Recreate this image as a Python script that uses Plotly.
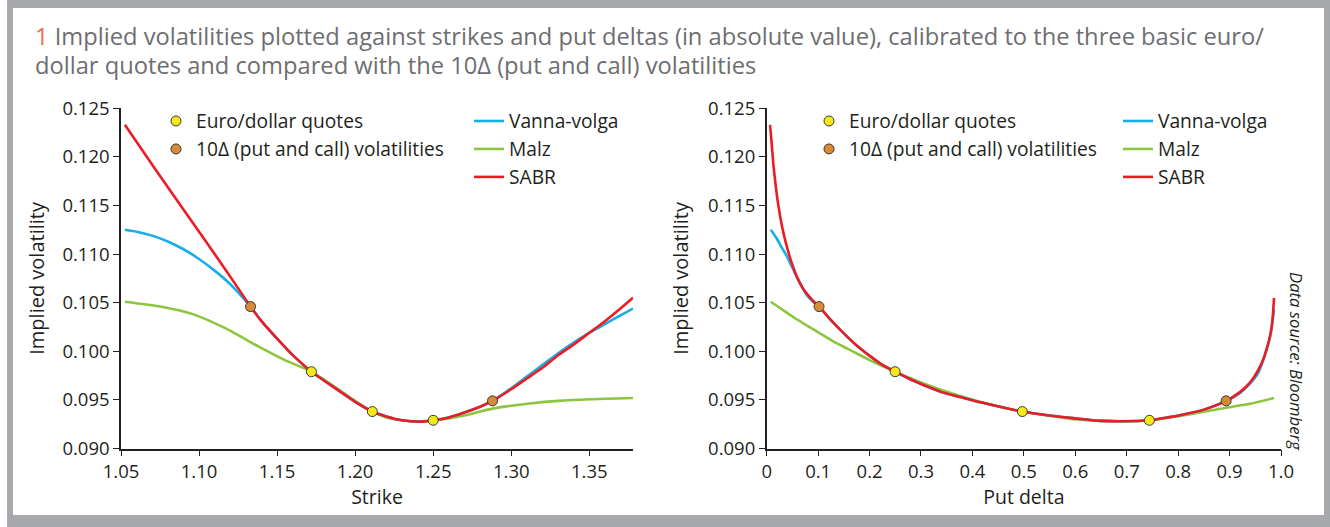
import plotly.graph_objects as go

# ---------------- data ----------------
# Left panel: implied volatility vs strike
strike_sabr = [1.0525, 1.07, 1.09, 1.11, 1.125, 1.133, 1.14, 1.15, 1.16, 1.172, 1.18, 1.19, 1.20, 1.211,
               1.22, 1.23, 1.2425, 1.25, 1.26, 1.27, 1.28, 1.288, 1.30, 1.31, 1.32, 1.33, 1.34, 1.35,
               1.36, 1.37, 1.378]
vol_sabr_k = [0.1233, 0.1192, 0.1146, 0.1100, 0.1065, 0.1046, 0.1031, 0.1013, 0.0996, 0.0979, 0.0970,
              0.0959, 0.0948, 0.0938, 0.0933, 0.0929, 0.09277, 0.0929, 0.0932, 0.0937, 0.0943, 0.0949,
              0.0961, 0.0972, 0.0983, 0.0996, 0.1007, 0.1019, 0.1031, 0.1044, 0.1055]

strike_vv = [1.0525, 1.06, 1.07, 1.08, 1.09, 1.10, 1.11, 1.12, 1.133, 1.14, 1.15, 1.16,
             1.172, 1.18, 1.19, 1.20, 1.211, 1.22, 1.23, 1.2425, 1.25, 1.26, 1.27, 1.28, 1.288, 1.30,
             1.31, 1.32, 1.33, 1.34, 1.35, 1.36, 1.37, 1.378]
vol_vv_k = [0.1125, 0.1123, 0.1119, 0.1113, 0.1105, 0.1095, 0.1083, 0.1069, 0.1046,
            0.1031, 0.1013, 0.0996, 0.0979, 0.0970, 0.0959, 0.0948, 0.0938, 0.0933, 0.0929, 0.09277,
            0.0929, 0.0932, 0.0937, 0.0943, 0.0949, 0.0962, 0.0974, 0.0986, 0.0998, 0.1009, 0.1019,
            0.1028, 0.1037, 0.1044]

strike_malz = [1.0525, 1.075, 1.0964, 1.1177, 1.1391, 1.155, 1.172, 1.19, 1.20, 1.211, 1.22, 1.23,
               1.24, 1.25, 1.26, 1.27, 1.28, 1.288, 1.30, 1.313, 1.33, 1.35, 1.378]
vol_malz_k = [0.1051, 0.1046, 0.1038, 0.1023, 0.1004, 0.0991, 0.0979, 0.0960, 0.0949,
              0.0938, 0.0932, 0.0929, 0.0928, 0.0929, 0.0931, 0.0934, 0.0938, 0.0941, 0.0944, 0.09466,
              0.0949, 0.09507, 0.0952]

quote_strikes = [1.172, 1.211, 1.250]
quote_vols = [0.0979, 0.0938, 0.0929]
tenD_strikes = [1.133, 1.288]
tenD_vols = [0.1046, 0.0949]

# Right panel: implied volatility vs put delta (absolute value)
delta_sabr = [0.0065, 0.009, 0.013, 0.018, 0.023, 0.03, 0.037, 0.045, 0.052, 0.06, 0.07, 0.08, 0.09,
              0.1018, 0.12, 0.149, 0.175, 0.201, 0.225, 0.2497, 0.28, 0.311, 0.34, 0.376, 0.42, 0.497,
              0.55, 0.60, 0.648, 0.69, 0.7441, 0.78, 0.81, 0.85, 0.8933, 0.92, 0.94, 0.955, 0.9658,
              0.9735, 0.9788, 0.983, 0.9865]
vol_sabr_d = [0.1233, 0.1218, 0.1192, 0.1168, 0.1149, 0.1128, 0.1112, 0.1097, 0.1086, 0.1075, 0.1065,
              0.1058, 0.1052, 0.1046, 0.1035, 0.1019, 0.1006, 0.0995, 0.0986, 0.0979, 0.0971, 0.0964,
              0.0958, 0.0953, 0.0947, 0.0938, 0.0934, 0.0931, 0.09284, 0.0928, 0.0929, 0.0932, 0.0935,
              0.0940, 0.0949, 0.0958, 0.0968, 0.0980, 0.0992, 0.1005, 0.1016, 0.1030, 0.1055]

delta_vv = [0.0078, 0.012, 0.0195, 0.029, 0.039, 0.048, 0.058, 0.068, 0.0778, 0.09, 0.1018, 0.12, 0.149,
            0.175, 0.201, 0.225, 0.2497, 0.28, 0.311, 0.34, 0.376, 0.42, 0.497, 0.55, 0.60, 0.648, 0.69,
            0.7441, 0.78, 0.81, 0.85, 0.8933, 0.92, 0.94, 0.955, 0.9723, 0.98, 0.9865]
vol_vv_d = [0.1125, 0.1122, 0.1116, 0.1107, 0.1098, 0.1088, 0.1077, 0.1067, 0.1058, 0.1051, 0.1046,
            0.1035, 0.1019, 0.1006, 0.0995, 0.0986, 0.0979, 0.0971, 0.0964, 0.0958, 0.0953, 0.0947,
            0.0938, 0.0934, 0.0931, 0.09284, 0.0928, 0.0929, 0.0932, 0.0935, 0.0940, 0.0949, 0.0957,
            0.0967, 0.0977, 0.1002, 0.1018, 0.1043]

delta_malz = [0.0078, 0.03, 0.055, 0.08, 0.1018, 0.13, 0.16, 0.20, 0.2497, 0.30, 0.376, 0.43, 0.497,
              0.60, 0.70, 0.7441, 0.81, 0.8933, 0.94, 0.9865]
vol_malz_d = [0.1051, 0.1043, 0.1034, 0.1026, 0.1019, 0.1010, 0.1002, 0.0991, 0.0979, 0.0968, 0.0954,
              0.0946, 0.0938, 0.0930, 0.0928, 0.0929, 0.0934, 0.0942, 0.0946, 0.0952]

quote_deltas = [0.2497, 0.497, 0.7441]
tenD_deltas = [0.1018, 0.8933]

y_ticks = [0.090, 0.095, 0.100, 0.105, 0.110, 0.115, 0.120, 0.125]
y_ticktext = ["0.090", "0.095", "0.100", "0.105", "0.110", "0.115", "0.120", "0.125"]
strike_ticks = [1.05, 1.10, 1.15, 1.20, 1.25, 1.30, 1.35]
strike_ticktext = ["1.05", "1.10", "1.15", "1.20", "1.25", "1.30", "1.35"]
delta_ticks = [0, 0.1, 0.2, 0.3, 0.4, 0.5, 0.6, 0.7, 0.8, 0.9, 1.0]
delta_ticktext = ["0", "0.1", "0.2", "0.3", "0.4", "0.5", "0.6", "0.7", "0.8", "0.9", "1.0"]

title_line1 = "Implied volatilities plotted against strikes and put deltas (in absolute value), calibrated to the three basic euro/"
title_line2 = "dollar quotes and compared with the 10\u0394 (put and call) volatilities"

# ---------------- style ----------------
W, H = 1330, 527
FONT = "Open Sans"
DARK = "#231f20"
BLUE = "#1aaee6"
GREEN = "#8cc63f"
RED = "#ec1c24"
YELLOW = "#f7e818"
ORANGE = "#d98a35"
FRAME = "#a7a9ac"


def fx(p):
    return p / W


def fy(p):
    return 1 - p / H


fig = go.Figure()

panels = [
    dict(xa="x", ya="y", lm="legend", ll="legend2",
         curves=[(strike_malz, vol_malz_k), (strike_vv, vol_vv_k), (strike_sabr, vol_sabr_k)],
         qx=quote_strikes, tx=tenD_strikes),
    dict(xa="x2", ya="y2", lm="legend3", ll="legend4",
         curves=[(delta_malz, vol_malz_d), (delta_vv, vol_vv_d), (delta_sabr, vol_sabr_d)],
         qx=quote_deltas, tx=tenD_deltas),
]
names = ["Malz", "Vanna-volga", "SABR"]
colors = [GREEN, BLUE, RED]
ranks = [2, 1, 3]

for p in panels:
    for (xs, ys), nm, c, rk in zip(p["curves"], names, colors, ranks):
        fig.add_trace(go.Scatter(x=xs, y=ys, mode="lines", name=nm, xaxis=p["xa"], yaxis=p["ya"],
                                 line=dict(color=c, width=2.6, shape="spline", smoothing=0.6),
                                 legend=p["ll"], legendrank=rk))
    fig.add_trace(go.Scatter(x=p["qx"], y=quote_vols, mode="markers", name="Euro/dollar quotes",
                             xaxis=p["xa"], yaxis=p["ya"], legend=p["lm"], legendrank=1,
                             marker=dict(size=10, color=YELLOW, line=dict(color="#3a3a3a", width=1))))
    fig.add_trace(go.Scatter(x=p["tx"], y=tenD_vols, mode="markers",
                             name="10\u0394 (put and call) volatilities",
                             xaxis=p["xa"], yaxis=p["ya"], legend=p["lm"], legendrank=2,
                             marker=dict(size=10, color=ORANGE, line=dict(color="#3a3a3a", width=1))))

TICKSIZE = 18.5
axis_common = dict(showline=True, linecolor=DARK, linewidth=1.5, ticks="outside", ticklen=6,
                   tickwidth=1.3, tickcolor=DARK, showgrid=False, zeroline=False, automargin=False,
                   tickfont=dict(family=FONT, size=TICKSIZE, color=DARK))
ydom = [fy(448.5), fy(108.3)]

fig.update_layout(
    width=W, height=H, autosize=False, margin=dict(l=0, r=0, t=0, b=0, pad=0),
    paper_bgcolor="white", plot_bgcolor="white",
    font=dict(family=FONT, color=DARK),
    xaxis=dict(domain=[fx(121), fx(633)], range=[1.05, 1.378], tickvals=strike_ticks,
               ticktext=strike_ticktext, anchor="y",
               title=dict(text="Strike", font=dict(family=FONT, size=19.5, color=DARK), standoff=1),
               **axis_common),
    yaxis=dict(domain=ydom, range=[0.090, 0.125], tickvals=y_ticks, ticktext=y_ticktext, anchor="x",
               title=dict(text="Implied volatility", font=dict(family=FONT, size=20, color=DARK),
                          standoff=12),
               **axis_common),
    xaxis2=dict(domain=[fx(766.7), fx(1281)], range=[0, 1.0], tickvals=delta_ticks,
                ticktext=delta_ticktext, anchor="y2",
                title=dict(text="Put delta", font=dict(family=FONT, size=19.5, color=DARK), standoff=1),
                **axis_common),
    yaxis2=dict(domain=ydom, range=[0.090, 0.125], tickvals=y_ticks, ticktext=y_ticktext, anchor="x2",
                title=dict(text="Implied volatility", font=dict(family=FONT, size=20, color=DARK),
                           standoff=14),
                **axis_common),
)

leg_common = dict(font=dict(family=FONT, size=19.2, color=DARK), bgcolor="rgba(0,0,0,0)",
                  xanchor="left", yanchor="top", tracegroupgap=0, itemwidth=30,
                  traceorder="normal")
fig.update_layout(
    legend=dict(x=fx(156), y=fy(102), **leg_common),
    legend2=dict(x=fx(469), y=fy(102), **leg_common),
    legend3=dict(x=fx(809), y=fy(102), **leg_common),
    legend4=dict(x=fx(1118), y=fy(102), **leg_common),
)

# frame
for x0, y0, x1, y1 in [(7, 0, 13, 527), (1324, 0, 1330, 527), (7, 0, 1330, 8), (7, 515, 1330, 527)]:
    fig.add_shape(type="rect", xref="paper", yref="paper", x0=fx(x0), x1=fx(x1), y0=fy(y1), y1=fy(y0),
                  fillcolor=FRAME, line=dict(width=0), layer="below")

fig.add_annotation(xref="paper", yref="paper", x=fx(33), y=fy(36), xanchor="left", yanchor="middle",
                   showarrow=False, align="left",
                   text='<span style="color:#ef6a4c">1</span> ' + title_line1,
                   font=dict(family=FONT, size=23.7, color="#6d6e71"))
fig.add_annotation(xref="paper", yref="paper", x=fx(33), y=fy(65), xanchor="left", yanchor="middle",
                   showarrow=False, align="left", text=title_line2,
                   font=dict(family=FONT, size=23.7, color="#6d6e71"))
fig.add_annotation(xref="paper", yref="paper", x=fx(1297), y=fy(361), xanchor="center", yanchor="middle",
                   showarrow=False, textangle=90, text="<i>Data source: Bloomberg</i>",
                   font=dict(family=FONT, size=16.7, color=DARK))

post = ("document.documentElement.style.margin='0';document.body.style.margin='0';"
        "document.documentElement.style.overflow='hidden';document.body.style.overflow='hidden';")
fig.write_html("out.html", config={"displayModeBar": False}, post_script=post)
